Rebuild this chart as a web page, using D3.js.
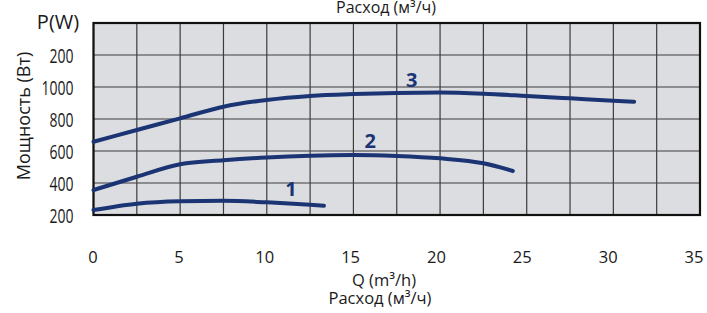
<!DOCTYPE html>
<html>
<head>
<meta charset="utf-8">
<script src="https://cdn.jsdelivr.net/npm/d3@7"></script>
<style>
  body { margin: 0; background: #fff; }
  text { font-family: "Open Sans", "Noto Sans", sans-serif; fill: #1a1a1a; }
</style>
</head>
<body>
<div id="chart"></div>
<script>
// data
const curveNames = ["1", "2", "3"];
const q1 = [0, 2.5, 5, 7.5, 10, 12.5, 13.3];
const p1 = [231, 271, 286, 289, 279, 264, 258];
const q2 = [0, 2.5, 5, 7.5, 10, 12.5, 15, 17.5, 20, 22.5, 24.2];
const p2 = [356, 439, 517, 542, 560, 571, 575, 569, 554, 523, 475];
const q3 = [0, 2.5, 5, 7.5, 10, 12.5, 15, 17.5, 20, 22.5, 25, 27.5, 30, 31.2];
const p3 = [658, 731, 804, 877, 919, 944, 956, 963, 965, 958, 944, 929, 914, 908];
// where the curve numbers sit (data units)
const labelQ = [11.4, 15.97, 18.36];
const labelP = [362, 662, 1044];

const xTicks = [0, 5, 10, 15, 20, 25, 30, 35];
const xGrid = d3.range(0, 35.01, 2.5);
const yTicks = [200, 400, 600, 800, 1000, 1200];
const yTickText = ["200", "400", "600", "800", "1000", "200"];
const yGrid = d3.range(200, 1401, 200);

const W = 707, H = 313;
const svg = d3.select("#chart").append("svg")
    .attr("width", W)
    .attr("height", H);

const x = d3.scaleLinear().domain([0, 35]).range([93.5, 700]);
const y = d3.scaleLinear().domain([200, 1400]).range([215, 23]);
// tick labels in the scan drift slightly left of the grid
const xLab = d3.scaleLinear().domain([0, 35]).range([93, 694]);

// plot background
svg.append("rect")
    .attr("x", x(0)).attr("y", y(1400))
    .attr("width", x(35) - x(0)).attr("height", y(200) - y(1400))
    .attr("fill", "#dcdde0");

// grid
svg.selectAll(".vgrid").data(xGrid).enter().append("line")
    .attr("x1", d => x(d)).attr("x2", d => x(d))
    .attr("y1", y(1400)).attr("y2", y(200))
    .attr("stroke", "#3c3c3c").attr("stroke-width", 1.2);
svg.selectAll(".hgrid").data(yGrid).enter().append("line")
    .attr("x1", x(0)).attr("x2", x(35))
    .attr("y1", d => y(d)).attr("y2", d => y(d))
    .attr("stroke", "#3c3c3c").attr("stroke-width", 1.2);

// frame
svg.append("rect")
    .attr("x", x(0)).attr("y", y(1400))
    .attr("width", x(35) - x(0)).attr("height", y(200) - y(1400))
    .attr("fill", "none").attr("stroke", "#111").attr("stroke-width", 2.2);

// curves
const series = [[q1, p1], [q2, p2], [q3, p3]];
const line = d3.line()
    .x(d => x(d[0]))
    .y(d => y(d[1]))
    .curve(d3.curveMonotoneX);

svg.selectAll(".curve").data(series).enter().append("path")
    .attr("d", s => line(d3.zip(s[0], s[1])))
    .attr("fill", "none")
    .attr("stroke", "#1b3474")
    .attr("stroke-width", 4)
    .attr("stroke-linecap", "round");

svg.selectAll(".clabel").data(curveNames).enter().append("text")
    .attr("x", (d, i) => x(labelQ[i]))
    .attr("y", (d, i) => y(labelP[i]))
    .attr("dy", "0.36em")
    .attr("text-anchor", "middle")
    .style("font-size", "20px")
    .style("font-weight", "bold")
    .style("fill", "#1b3474")
    .text(d => d);

// x tick labels
svg.selectAll(".xlab").data(xTicks).enter().append("text")
    .attr("x", d => xLab(d))
    .attr("y", 263)
    .attr("text-anchor", "middle")
    .style("font-size", "16.5px")
    .text(d => d);

// y tick labels (narrow in the original)
svg.selectAll(".ylab").data(yTicks).enter().append("text")
    .attr("transform", d => `translate(73.5,${y(d) + 7.5}) scale(0.7,1)`)
    .attr("text-anchor", "end")
    .style("font-size", "20px")
    .text((d, i) => yTickText[i]);

svg.append("text")
    .attr("x", 58).attr("y", 29)
    .attr("text-anchor", "middle")
    .style("font-size", "20px")
    .text("P(W)");

svg.append("text")
    .attr("transform", "translate(30,116) rotate(-90)")
    .attr("text-anchor", "middle")
    .style("font-size", "18px")
    .text("Мощность (Вт)");

svg.append("text")
    .attr("x", 384).attr("y", 286)
    .attr("text-anchor", "middle")
    .style("font-size", "16.5px")
    .text("Q (m³/h)");

svg.append("text")
    .attr("x", 380).attr("y", 304)
    .attr("text-anchor", "middle")
    .style("font-size", "16.5px")
    .text("Расход (м³/ч)");

svg.append("text")
    .attr("x", 386).attr("y", 13)
    .attr("text-anchor", "middle")
    .style("font-size", "16px")
    .text("Расход (м³/ч)");
</script>
</body>
</html>
